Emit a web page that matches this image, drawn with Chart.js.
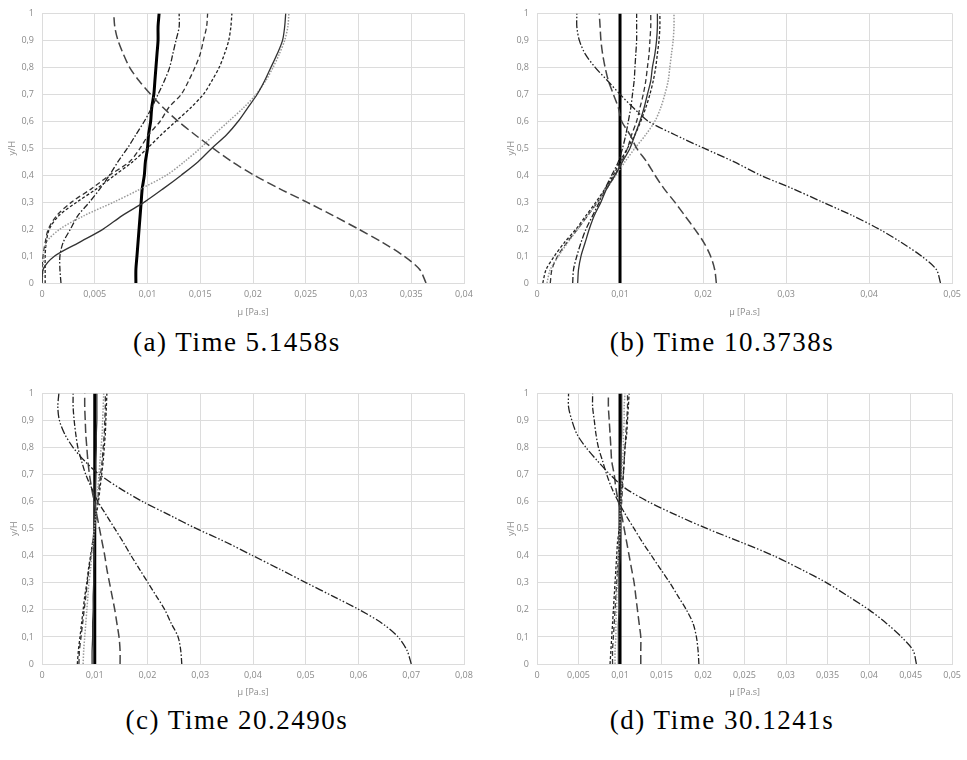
<!DOCTYPE html>
<html>
<head>
<meta charset="utf-8">
<script src="https://cdn.jsdelivr.net/npm/chart.js@4.4.0/dist/chart.umd.min.js"></script>
<style>
  body { margin: 0; background: #fff; width: 967px; height: 760px; position: relative; overflow: hidden; }
  canvas { position: absolute; }
  .cap { position: absolute; font-family: "Liberation Serif", serif; font-size: 27px; letter-spacing: 1.5px; color: #000;
         transform: translate(-50%, -50%); white-space: nowrap; }
</style>
</head>
<body>
<canvas id="chartA" width="480" height="322" style="left:0;top:0"></canvas>
<canvas id="chartB" width="487" height="322" style="left:480px;top:0"></canvas>
<canvas id="chartC" width="480" height="322" style="left:0;top:380px"></canvas>
<canvas id="chartD" width="487" height="322" style="left:480px;top:380px"></canvas>
<div class="cap" id="capA" style="left:237px;top:342px"></div>
<div class="cap" id="capB" style="left:722px;top:342px"></div>
<div class="cap" id="capC" style="left:237px;top:720px"></div>
<div class="cap" id="capD" style="left:722px;top:720px"></div>
<script>
// y/H levels shared by every profile
const yLevels = [0, 0.05, 0.1, 0.15, 0.2, 0.25, 0.3, 0.35, 0.4, 0.45, 0.5, 0.55, 0.6, 0.65, 0.7, 0.75, 0.8, 0.85, 0.9, 0.95, 1];

const captions = ['(a) Time 5.1458s', '(b) Time 10.3738s', '(c) Time 20.2490s', '(d) Time 30.1241s'];
const xMax = [0.04, 0.05, 0.08, 0.05];
const xStep = [0.005, 0.01, 0.01, 0.005];
const xTitle = 'µ [Pa.s]';
const yTitle = 'y/H';

// (a) 5.1458s
const aThick     = [0.0089,0.0089,0.0090,0.0091,0.0092,0.0093,0.0094,0.0095,0.0097,0.0098,0.0100,0.0101,0.0103,0.0104,0.0106,0.0107,0.0108,0.0109,0.0110,0.0110,0.0111];
const aLongDash  = [0.0364,0.0358,0.0343,0.0323,0.0300,0.0276,0.0251,0.0225,0.0201,0.0180,0.0162,0.0145,0.0129,0.0115,0.0103,0.0092,0.0083,0.0077,0.0072,0.0069,0.0068];
const aSolid     = [0.0000,0.0001,0.0012,0.0035,0.0058,0.0076,0.0097,0.0115,0.0132,0.0148,0.0161,0.0175,0.0186,0.0195,0.0204,0.0211,0.0217,0.0223,0.0228,0.0230,0.0231];
const aDotted    = [0.0000,0.0001,0.0002,0.0004,0.0017,0.0040,0.0068,0.0094,0.0118,0.0135,0.0150,0.0163,0.0177,0.0191,0.0203,0.0212,0.0219,0.0225,0.0230,0.0233,0.0234];
const aShortDash = [0.0003,0.0003,0.0003,0.0004,0.0007,0.0016,0.0033,0.0052,0.0069,0.0086,0.0100,0.0113,0.0127,0.0141,0.0153,0.0161,0.0168,0.0173,0.0177,0.0179,0.0180];
const aDash      = [0.0000,0.0000,0.0001,0.0003,0.0006,0.0014,0.0028,0.0047,0.0064,0.0083,0.0093,0.0101,0.0112,0.0120,0.0132,0.0139,0.0145,0.0150,0.0153,0.0156,0.0157];
const aDashDot   = [0.0018,0.0017,0.0017,0.0020,0.0027,0.0034,0.0045,0.0055,0.0064,0.0072,0.0081,0.0089,0.0097,0.0104,0.0110,0.0116,0.0121,0.0124,0.0127,0.0130,0.0130];

// (b) 10.3738s
const bThick      = [0.0100,0.0100,0.0100,0.0100,0.0100,0.0100,0.0100,0.0100,0.0100,0.0100,0.0100,0.0100,0.0100,0.0100,0.0100,0.0100,0.0100,0.0100,0.0100,0.0100,0.0100];
const bDashDotDot = [0.0486,0.0481,0.0463,0.0439,0.0412,0.0380,0.0344,0.0308,0.0269,0.0237,0.0201,0.0166,0.0134,0.0116,0.0100,0.0085,0.0070,0.0058,0.0051,0.0048,0.0048];
const bLongDash   = [0.0216,0.0214,0.0209,0.0201,0.0190,0.0178,0.0166,0.0153,0.0142,0.0132,0.0120,0.0112,0.0102,0.0098,0.0092,0.0086,0.0082,0.0079,0.0077,0.0076,0.0075];
const bSolid      = [0.0049,0.0050,0.0053,0.0058,0.0063,0.0069,0.0077,0.0084,0.0094,0.0103,0.0112,0.0118,0.0124,0.0129,0.0133,0.0137,0.0139,0.0142,0.0144,0.0145,0.0145];
const bDotted     = [0.0012,0.0016,0.0026,0.0037,0.0049,0.0061,0.0073,0.0084,0.0095,0.0106,0.0118,0.0131,0.0142,0.0149,0.0154,0.0158,0.0160,0.0162,0.0164,0.0165,0.0165];
const bShortDash  = [0.0007,0.0011,0.0021,0.0033,0.0047,0.0059,0.0071,0.0082,0.0092,0.0100,0.0109,0.0118,0.0125,0.0131,0.0136,0.0140,0.0143,0.0145,0.0147,0.0148,0.0148];
const bDash       = [0.0016,0.0018,0.0025,0.0036,0.0049,0.0061,0.0073,0.0084,0.0094,0.0102,0.0109,0.0114,0.0120,0.0124,0.0128,0.0131,0.0133,0.0135,0.0136,0.0137,0.0137];
const bDashDot    = [0.0043,0.0044,0.0048,0.0053,0.0059,0.0067,0.0075,0.0082,0.0090,0.0098,0.0103,0.0107,0.0110,0.0113,0.0115,0.0117,0.0118,0.0119,0.0120,0.0120,0.0120];

// (c) 20.2490s
const cThick      = [0.0100,0.0100,0.0100,0.0100,0.0100,0.0100,0.0100,0.0100,0.0100,0.0100,0.0100,0.0100,0.0100,0.0100,0.0100,0.0100,0.0100,0.0100,0.0100,0.0100,0.0100];
const cDashDotDot = [0.0700,0.0692,0.0675,0.0645,0.0602,0.0552,0.0501,0.0451,0.0400,0.0349,0.0293,0.0242,0.0191,0.0147,0.0109,0.0081,0.0059,0.0043,0.0033,0.0030,0.0032];
const cDashDot    = [0.0265,0.0263,0.0258,0.0245,0.0233,0.0217,0.0201,0.0185,0.0169,0.0154,0.0138,0.0122,0.0106,0.0094,0.0083,0.0075,0.0068,0.0064,0.0061,0.0059,0.0059];
const cLongDash   = [0.0148,0.0148,0.0146,0.0142,0.0138,0.0133,0.0128,0.0123,0.0119,0.0114,0.0109,0.0104,0.0099,0.0094,0.0090,0.0087,0.0085,0.0083,0.0082,0.0081,0.0081];
const cSolid      = [0.0095,0.0095,0.0096,0.0096,0.0097,0.0097,0.0098,0.0098,0.0099,0.0099,0.0100,0.0100,0.0101,0.0101,0.0102,0.0102,0.0103,0.0103,0.0104,0.0104,0.0104];
const cDotted     = [0.0078,0.0079,0.0081,0.0083,0.0085,0.0087,0.0089,0.0092,0.0094,0.0097,0.0099,0.0102,0.0104,0.0106,0.0108,0.0110,0.0112,0.0114,0.0115,0.0116,0.0117];
const cShortDash  = [0.0067,0.0069,0.0072,0.0075,0.0078,0.0081,0.0085,0.0088,0.0092,0.0096,0.0100,0.0103,0.0107,0.0110,0.0113,0.0116,0.0118,0.0120,0.0121,0.0122,0.0123];
const cDash       = [0.0070,0.0071,0.0074,0.0077,0.0080,0.0083,0.0086,0.0089,0.0093,0.0096,0.0099,0.0102,0.0105,0.0108,0.0111,0.0114,0.0116,0.0118,0.0119,0.0120,0.0120];

// (d) 30.1241s
const dThick      = [0.0100,0.0100,0.0100,0.0100,0.0100,0.0100,0.0100,0.0100,0.0100,0.0100,0.0100,0.0100,0.0100,0.0100,0.0100,0.0100,0.0100,0.0100,0.0100,0.0100,0.0100];
const dDashDotDot = [0.0457,0.0453,0.0439,0.0421,0.0400,0.0375,0.0349,0.0318,0.0285,0.0246,0.0205,0.0168,0.0134,0.0106,0.0088,0.0073,0.0059,0.0048,0.0042,0.0038,0.0038];
const dDashDot    = [0.0195,0.0194,0.0192,0.0188,0.0180,0.0170,0.0160,0.0149,0.0138,0.0127,0.0117,0.0107,0.0098,0.0090,0.0084,0.0079,0.0074,0.0071,0.0069,0.0067,0.0067];
const dLongDash   = [0.0125,0.0125,0.0125,0.0123,0.0121,0.0119,0.0117,0.0114,0.0111,0.0108,0.0105,0.0102,0.0098,0.0095,0.0093,0.0090,0.0089,0.0088,0.0087,0.0086,0.0086];
const dSolid      = [0.0098,0.0098,0.0098,0.0098,0.0099,0.0099,0.0099,0.0099,0.0100,0.0100,0.0100,0.0100,0.0100,0.0101,0.0101,0.0101,0.0101,0.0102,0.0102,0.0102,0.0102];
const dDotted     = [0.0094,0.0094,0.0095,0.0095,0.0096,0.0096,0.0097,0.0097,0.0098,0.0099,0.0100,0.0100,0.0101,0.0102,0.0102,0.0103,0.0104,0.0104,0.0105,0.0105,0.0106];
const dShortDash  = [0.0088,0.0089,0.0090,0.0091,0.0092,0.0093,0.0094,0.0095,0.0096,0.0097,0.0099,0.0100,0.0101,0.0102,0.0104,0.0105,0.0106,0.0108,0.0109,0.0110,0.0111];
const dDash       = [0.0091,0.0091,0.0092,0.0093,0.0094,0.0095,0.0096,0.0097,0.0098,0.0099,0.0100,0.0101,0.0102,0.0103,0.0104,0.0105,0.0106,0.0107,0.0108,0.0109,0.0109];

// line styles
const styles = {
  thick:      { borderColor: '#000', borderWidth: 3, borderDash: [] },
  solid:      { borderColor: '#333', borderWidth: 1.3, borderDash: [] },
  dotted:     { borderColor: '#999', borderWidth: 1.5, borderDash: [1.5, 1.5] },
  shortDash:  { borderColor: '#222', borderWidth: 1.3, borderDash: [3, 2] },
  dash:       { borderColor: '#333', borderWidth: 1.3, borderDash: [5, 3] },
  dashDot:    { borderColor: '#222', borderWidth: 1.3, borderDash: [6, 2, 1.5, 2] },
  longDash:   { borderColor: '#444', borderWidth: 1.5, borderDash: [9, 4] },
  dashDotDot: { borderColor: '#222', borderWidth: 1.3, borderDash: [8, 2, 1.5, 2, 1.5, 2] }
};

function profile(xs, style) {
  return Object.assign({
    data: xs.map((x, i) => ({ x: x, y: yLevels[i] })),
    showLine: true, pointRadius: 0, fill: false, tension: 0.3
  }, styles[style]);
}

function fmt(v) {
  return (Math.round(v * 10000) / 10000).toString().replace('.', ',');
}

const gridColor = '#dcdcdc';
const tickColor = '#8a8a8a';
Chart.defaults.font.family = "'Open Sans', sans-serif";
Chart.defaults.font.size = 9;
Chart.defaults.color = tickColor;

function makeChart(id, idx, datasets, box) {
  new Chart(document.getElementById(id), {
    type: 'scatter',
    data: { datasets: datasets },
    options: {
      responsive: false,
      animation: false,
      layout: { padding: { top: box.top, right: box.right, left: 0, bottom: 0 } },
      plugins: { legend: { display: false }, tooltip: { enabled: false } },
      scales: {
        x: {
          type: 'linear', min: 0, max: xMax[idx],
          ticks: { stepSize: xStep[idx], autoSkip: false, maxRotation: 0, padding: 6, callback: fmt },
          grid: { color: gridColor, drawTicks: false },
          border: { color: gridColor },
          title: { display: true, text: xTitle, padding: { top: 0, bottom: 4 } },
          afterFit: s => { s.height = box.xh; }
        },
        y: {
          type: 'linear', min: 0, max: 1,
          ticks: { stepSize: 0.1, autoSkip: false, padding: 8, callback: fmt },
          grid: { color: gridColor, drawTicks: false },
          border: { color: gridColor },
          title: { display: true, text: yTitle, padding: { top: box.yt, bottom: 0 } },
          afterFit: s => { s.width = box.yw; }
        }
      }
    }
  });
}

makeChart('chartA', 0, [
  profile(aLongDash, 'longDash'),
  profile(aSolid, 'solid'),
  profile(aDotted, 'dotted'),
  profile(aShortDash, 'shortDash'),
  profile(aDash, 'dash'),
  profile(aDashDot, 'dashDot'),
  profile(aThick, 'thick')
], { top: 11, right: 16, xh: 39, yw: 42, yt: 7 });

makeChart('chartB', 1, [
  profile(bDashDotDot, 'dashDotDot'),
  profile(bLongDash, 'longDash'),
  profile(bSolid, 'solid'),
  profile(bDotted, 'dotted'),
  profile(bShortDash, 'shortDash'),
  profile(bDash, 'dash'),
  profile(bDashDot, 'dashDot'),
  profile(bThick, 'thick')
], { top: 11, right: 9, xh: 39, yw: 57, yt: 26 });

makeChart('chartC', 2, [
  profile(cDashDotDot, 'dashDotDot'),
  profile(cDashDot, 'dashDot'),
  profile(cLongDash, 'longDash'),
  profile(cDotted, 'dotted'),
  profile(cShortDash, 'shortDash'),
  profile(cDash, 'dash'),
  profile(cSolid, 'solid'),
  profile(cThick, 'thick')
], { top: 12, right: 16, xh: 38, yw: 42, yt: 9 });

makeChart('chartD', 3, [
  profile(dDashDotDot, 'dashDotDot'),
  profile(dDashDot, 'dashDot'),
  profile(dLongDash, 'longDash'),
  profile(dDotted, 'dotted'),
  profile(dShortDash, 'shortDash'),
  profile(dDash, 'dash'),
  profile(dSolid, 'solid'),
  profile(dThick, 'thick')
], { top: 12, right: 9, xh: 38, yw: 57, yt: 26 });

['capA', 'capB', 'capC', 'capD'].forEach((id, i) => {
  document.getElementById(id).textContent = captions[i];
});
</script>
</body>
</html>
